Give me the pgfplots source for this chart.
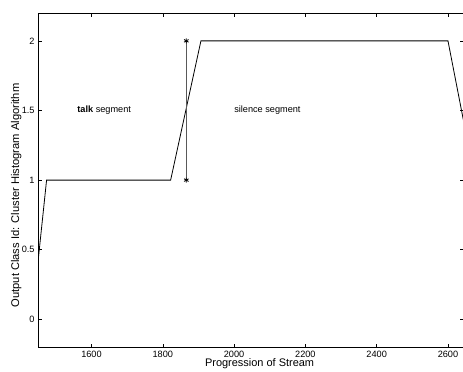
\documentclass[border=0pt]{standalone}
\usepackage{fontspec}
\setmainfont{Liberation Sans}
\usepackage{pgfplots}
\pgfplotsset{compat=1.18}
\begin{document}
\begin{tikzpicture}
\begin{axis}[
  name=ax,
  scale only axis,
  width=425bp, height=334bp,
  xmin=1450, xmax=2643,
  ymin=-0.2, ymax=2.2,
  xtick={1600,1800,2000,2200,2400,2600},
  ytick={0,0.5,1,1.5,2},
  yticklabels={0,0.5,1,1.5,2},
  tick align=inside,
  major tick length=3.5bp,
  tick style={black, line width=0.5bp},
  axis line style={black, line width=0.7bp},
  /pgf/number format/assume math mode=true,
  /pgf/number format/1000 sep={},
  ticklabel style={font=\fontsize{9.2}{10}\selectfont},
  xlabel={Progression of Stream},
  ylabel={Output Class Id: Cluster Histogram Algorithm},
  xlabel style={font=\fontsize{11}{12}\selectfont, at={(axis description cs:0.521,0)}, anchor=base, yshift=-19.5bp},
  ylabel style={font=\fontsize{11.2}{12}\selectfont, at={(axis description cs:-0.0447,0.454)}, anchor=base},
  clip=true,
]
\addplot[black, line width=0.8bp] coordinates {
  (1433,0) (1474,1) (1822,1) (1907,2) (2600,2) (2676,1)
};
\addplot[black!65, line width=0.7bp, mark=asterisk, mark size=2.6bp, mark options={black, line width=0.8bp}] coordinates {
  (1866,1) (1866,2)
};
\node[anchor=west, inner sep=0pt, font=\fontsize{9.2}{10}\selectfont] at (axis cs:1560,1.5) {\textbf{talk} segment};
\node[anchor=west, inner sep=0pt, font=\fontsize{9.2}{10}\selectfont] at (axis cs:2000,1.5) {silence segment};
\end{axis}
\pgfresetboundingbox
\path[use as bounding box] ([xshift=-38bp,yshift=-24bp]ax.south west) rectangle ([xshift=-0.3bp,yshift=13bp]ax.north east);
\end{tikzpicture}
\end{document}
